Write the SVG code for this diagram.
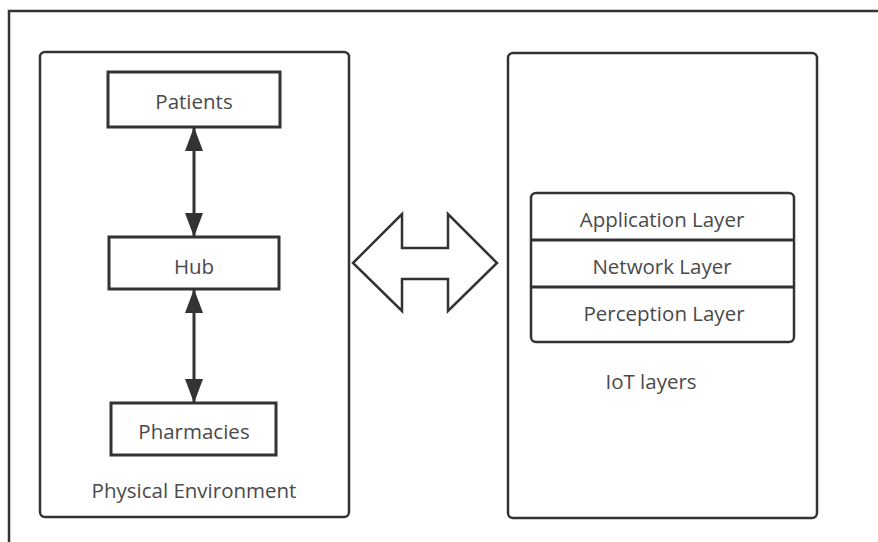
<svg xmlns="http://www.w3.org/2000/svg" width="878" height="542" viewBox="0 0 878 542">
<style>
.frame{fill:none;stroke:#333;stroke-width:2.5}
.box{fill:#fff;stroke:#333;stroke-width:3}
.cont{fill:#fff;stroke:#333;stroke-width:2.5}
.lbl{font-family:"Open Sans","Noto Sans","DejaVu Sans",sans-serif;font-size:20.5px;fill:#4a4a4a;text-anchor:middle;dominant-baseline:central}
.conn{stroke:#333;stroke-width:3;fill:none}
</style>
<defs>
<marker id="ah" viewBox="0 0 24 18" refX="23" refY="9" markerWidth="24" markerHeight="18" markerUnits="userSpaceOnUse" orient="auto-start-reverse">
<path d="M0,0 L24,9 L0,18 Z" fill="#333"/>
</marker>
</defs>
<rect width="878" height="542" fill="#fff"/>
<rect class="frame" x="9" y="11" width="900" height="560"/>
<g id="physical-environment">
<rect class="cont" x="40" y="52" width="309" height="465" rx="5"/>
<text class="lbl" x="194" y="490">Physical Environment</text>
</g>
<g id="iot-layers">
<rect class="cont" x="508" y="53" width="309" height="465" rx="5"/>
<text class="lbl" x="651" y="381">IoT layers</text>
</g>
<g id="patients">
<rect class="box" x="108" y="72" width="172" height="55"/>
<text class="lbl" x="194" y="101">Patients</text>
</g>
<g id="hub">
<rect class="box" x="109" y="237" width="170" height="52"/>
<text class="lbl" x="194" y="266">Hub</text>
</g>
<g id="pharmacies">
<rect class="box" x="111" y="403" width="165" height="52"/>
<text class="lbl" x="194" y="431">Pharmacies</text>
</g>
<g id="layer-stack">
<rect class="cont" x="531" y="193" width="263" height="149" rx="5"/>
<line class="conn" x1="531" y1="240" x2="794" y2="240" stroke-width="2.5"/>
<line class="conn" x1="531" y1="287" x2="794" y2="287" stroke-width="2.5"/>
<text class="lbl" x="662" y="219">Application Layer</text>
<text class="lbl" x="662" y="266">Network Layer</text>
<text class="lbl" x="664" y="313">Perception Layer</text>
</g>
<g id="connectors">
<line class="conn" x1="194" y1="128" x2="194" y2="236" marker-start="url(#ah)" marker-end="url(#ah)"/>
<line class="conn" x1="194" y1="290" x2="194" y2="402" marker-start="url(#ah)" marker-end="url(#ah)"/>
<path id="big-arrow" d="M353,263 L402,214 L402,248 L448,248 L448,214 L497,263 L448,311 L448,279 L402,279 L402,311 Z" fill="#fff" stroke="#333" stroke-width="2.5" stroke-linejoin="miter"/>
</g>
</svg>
